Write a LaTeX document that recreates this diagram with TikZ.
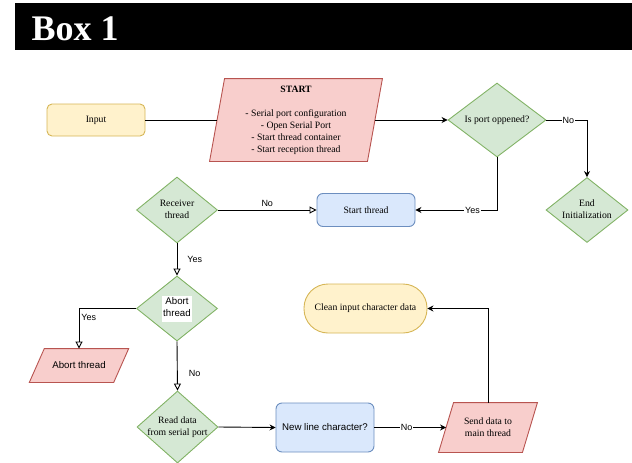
\documentclass[tikz,border=0pt]{standalone}
\usepackage{fontspec}
\setmainfont{Liberation Serif}
\setsansfont{Liberation Sans}
\usetikzlibrary{arrows.meta,shapes.geometric,backgrounds}
\definecolor{yfill}{HTML}{FFF2CC}\definecolor{ydraw}{HTML}{D6B656}
\definecolor{rfill}{HTML}{F8CECC}\definecolor{rdraw}{HTML}{B85450}
\definecolor{gfill}{HTML}{D5E8D4}\definecolor{gdraw}{HTML}{82B366}
\definecolor{bfill}{HTML}{DAE8FC}\definecolor{bdraw}{HTML}{6C8EBF}
\newcommand{\zt}[1]{\makebox[0pt]{\begin{tabular}{@{}c@{}}#1\end{tabular}}}
\newcommand{\ztw}[1]{\makebox[0pt]{\setlength{\fboxsep}{1pt}\colorbox{white}{\begin{tabular}{@{}c@{}}#1\end{tabular}}}}
\begin{document}
\begin{tikzpicture}[x=1pt,y=-1pt,
  txt/.style={font=\fontsize{9.7}{12}\selectfont},
  box/.style={txt, rectangle, inner sep=0pt, line width=0.9pt, align=center},
  yellowbox/.style={box, rounded corners=5pt, draw=ydraw, fill=yfill},
  bluebox/.style={box, rounded corners=6pt, draw=bdraw, fill=bfill},
  stadium/.style={box, rounded corners=24pt, draw=ydraw, fill=yfill},
  parabox/.style={box},
  parashape/.style={draw=rdraw, fill=rfill, line width=0.9pt},
  dia/.style={txt, diamond, inner sep=0pt, aspect=1.2, draw=gdraw, fill=gfill, line width=0.9pt},
  conn/.style={line width=0.9pt, draw=black},
  filled/.style={conn, -{Stealth[length=6pt,width=6pt]}},
  hollow/.style={conn, -{Triangle[open,length=7pt,width=7pt]}},
  lbl/.style={font=\sffamily\fontsize{9}{10}\selectfont, inner sep=1pt},
  wlbl/.style={lbl, fill=white}
]
\useasboundingbox (0,0) rectangle (632,463);
% title bar
\fill[black] (15,3) rectangle (632,50);
\node[anchor=base west, text=white, inner sep=0pt, font=\fontsize{36}{40}\selectfont\bfseries] (title) at (31.5,40) {Box 1};

% nodes
\node[yellowbox, minimum width=98pt, minimum height=32pt] (input) at (96,120) {Input};
\node[parabox, minimum width=157pt, minimum height=82pt] (start) at (296,120)
  {\textbf{START}\\[12pt]- Serial port configuration\\- Open Serial Port\\- Start thread container\\- Start reception thread};
\node[dia, minimum width=98pt, minimum height=74pt] (port) at (497,120) {\zt{Is port oppened?}};
\node[dia, minimum width=82pt, minimum height=65pt] (endinit) at (587,210) {\zt{End\\Initialization}};
\node[bluebox, minimum width=98pt, minimum height=33pt] (startthread) at (366,210) {Start thread};
\node[dia, minimum width=81pt, minimum height=66pt] (recv) at (177,210) {\zt{Receiver\\thread}};
\node[dia, minimum width=81pt, minimum height=65pt, font=\sffamily\fontsize{9.7}{12}\selectfont] (abort) at (177,308.5) {\ztw{Abort\\thread}};
\node[parabox, minimum width=83.5pt, minimum height=33pt, font=\sffamily\fontsize{9.7}{12}\selectfont] (abortt) at (79,365.5) {Abort thread};
\node[dia, minimum width=81pt, minimum height=72pt] (read) at (177.5,427) {\zt{Read data\\from serial port}};
\node[bluebox, minimum width=98pt, minimum height=49pt, font=\sffamily\fontsize{9.7}{12}\selectfont] (newline) at (325,427.5) {New line character?};
\node[parabox, minimum width=83pt, minimum height=49pt] (send) at (488,427.5) {Send data to\\main thread};
\node[stadium, minimum width=123pt, minimum height=49pt] (clean) at (365.5,308.5) {Clean input character data};

% parallelogram outlines
\begin{scope}[on background layer]
\filldraw[parashape] ([xshift=7.5pt]start.north west) -- ([xshift=7.5pt]start.north east) -- ([xshift=-7.5pt]start.south east) -- ([xshift=-7.5pt]start.south west) -- cycle;
\filldraw[parashape] ([xshift=7.5pt]abortt.north west) -- ([xshift=7.5pt]abortt.north east) -- ([xshift=-7.5pt]abortt.south east) -- ([xshift=-7.5pt]abortt.south west) -- cycle;
\filldraw[parashape] ([xshift=7.5pt]send.north west) -- ([xshift=7.5pt]send.north east) -- ([xshift=-7.5pt]send.south east) -- ([xshift=-7.5pt]send.south west) -- cycle;
\end{scope}

% connectors
\draw[conn] (input.east) -- (start.west);
\draw[filled] (start.east) -- (port.west);
\draw[filled] (port.east) -| node[wlbl, pos=0.27] {No} (endinit.north);
\draw[filled] (port.south) |- node[wlbl, pos=0.65] {Yes} (startthread.east);
\draw[hollow] (recv.east) -- node[lbl, above=2pt] {No} (startthread.west);
\draw[hollow] (recv.south) -- node[lbl, anchor=west, xshift=9pt] {Yes} (abort.north);
\draw[hollow] (abort.west) -| node[lbl, anchor=west, pos=0.61, xshift=1pt] {Yes} (abortt.north);
\draw[hollow] (abort.south) -- node[lbl, anchor=west, pos=0.66, xshift=10pt] {No} (read.north);
\draw[filled] (read.east) -- (newline.west);
\draw[filled] (newline.east) -- node[wlbl, pos=0.45] {No} (send.west);
\draw[filled] (send.north) |- (clean.east);
\end{tikzpicture}
\end{document}
